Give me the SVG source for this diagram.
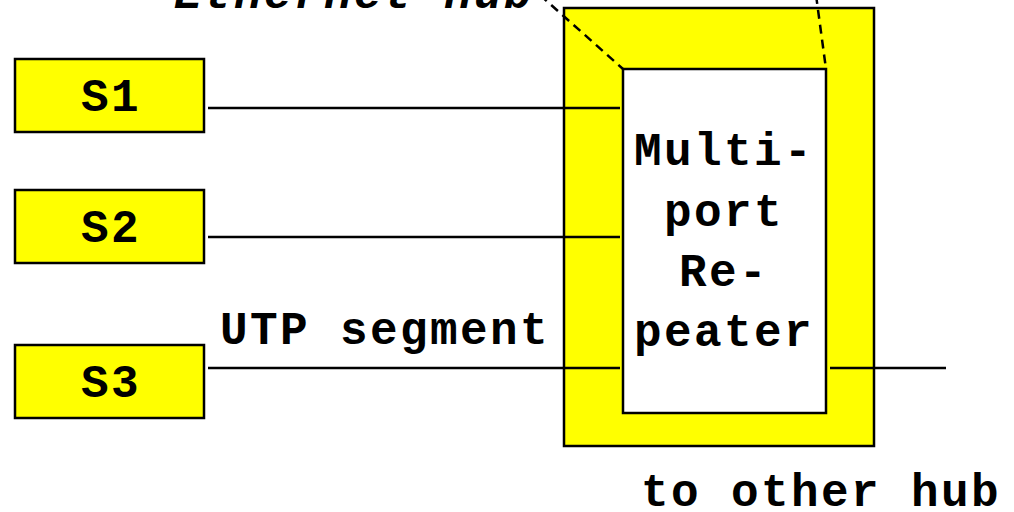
<svg xmlns="http://www.w3.org/2000/svg" width="1014" height="512" viewBox="0 0 1014 512">
  <style>
    .box { fill: #ffff00; stroke: #000; stroke-width: 2.5; }
    .inner { fill: #fff; stroke: #000; stroke-width: 2.5; }
    .wire { stroke: #000; stroke-width: 2.5; fill: none; }
    .dash { stroke: #000; stroke-width: 2.5; fill: none; stroke-dasharray: 9 6; }
    .t { font-family: "Liberation Mono", "Courier New", monospace; font-weight: bold; font-size: 46px; letter-spacing: 2.4px; fill: #000; }
    .c { text-anchor: middle; }
  </style>
  <rect width="1014" height="512" fill="#fff"/>

  <!-- Ethernet hub with its multiport repeater -->
  <g id="hub">
    <rect class="box" x="564" y="8" width="310" height="438"/>
    <rect class="inner" x="623" y="69" width="203" height="344"/>
    <text class="t c" x="724" y="165">Multi-</text>
    <text class="t c" x="724" y="226">port</text>
    <text class="t c" x="724" y="286">Re-</text>
    <text class="t c" x="724" y="346">peater</text>
  </g>

  <!-- stations -->
  <g id="s1">
    <rect class="box" x="15" y="59" width="189" height="73"/>
    <text class="t c" x="111" y="111">S1</text>
  </g>
  <g id="s2">
    <rect class="box" x="15" y="190" width="189" height="73"/>
    <text class="t c" x="111" y="242">S2</text>
  </g>
  <g id="s3">
    <rect class="box" x="15" y="345" width="189" height="73"/>
    <text class="t c" x="111" y="397">S3</text>
  </g>

  <!-- UTP segments and uplink -->
  <g id="connectors">
    <line class="wire" x1="208" y1="108" x2="620" y2="108"/>
    <line class="wire" x1="208" y1="237" x2="620" y2="237"/>
    <line class="wire" x1="208" y1="368" x2="620" y2="368"/>
    <line class="wire" x1="830" y1="368" x2="946" y2="368"/>
    <line class="dash" x1="540" y1="-5" x2="623" y2="69"/>
    <line class="dash" x1="816" y1="-5" x2="826" y2="69"/>
  </g>

  <!-- labels -->
  <g id="labels">
    <text class="t" x="174" y="8" font-style="italic">Ethernet hub</text>
    <text class="t" x="220" y="344">UTP segment</text>
    <text class="t" x="641" y="506">to other hub</text>
  </g>
</svg>
